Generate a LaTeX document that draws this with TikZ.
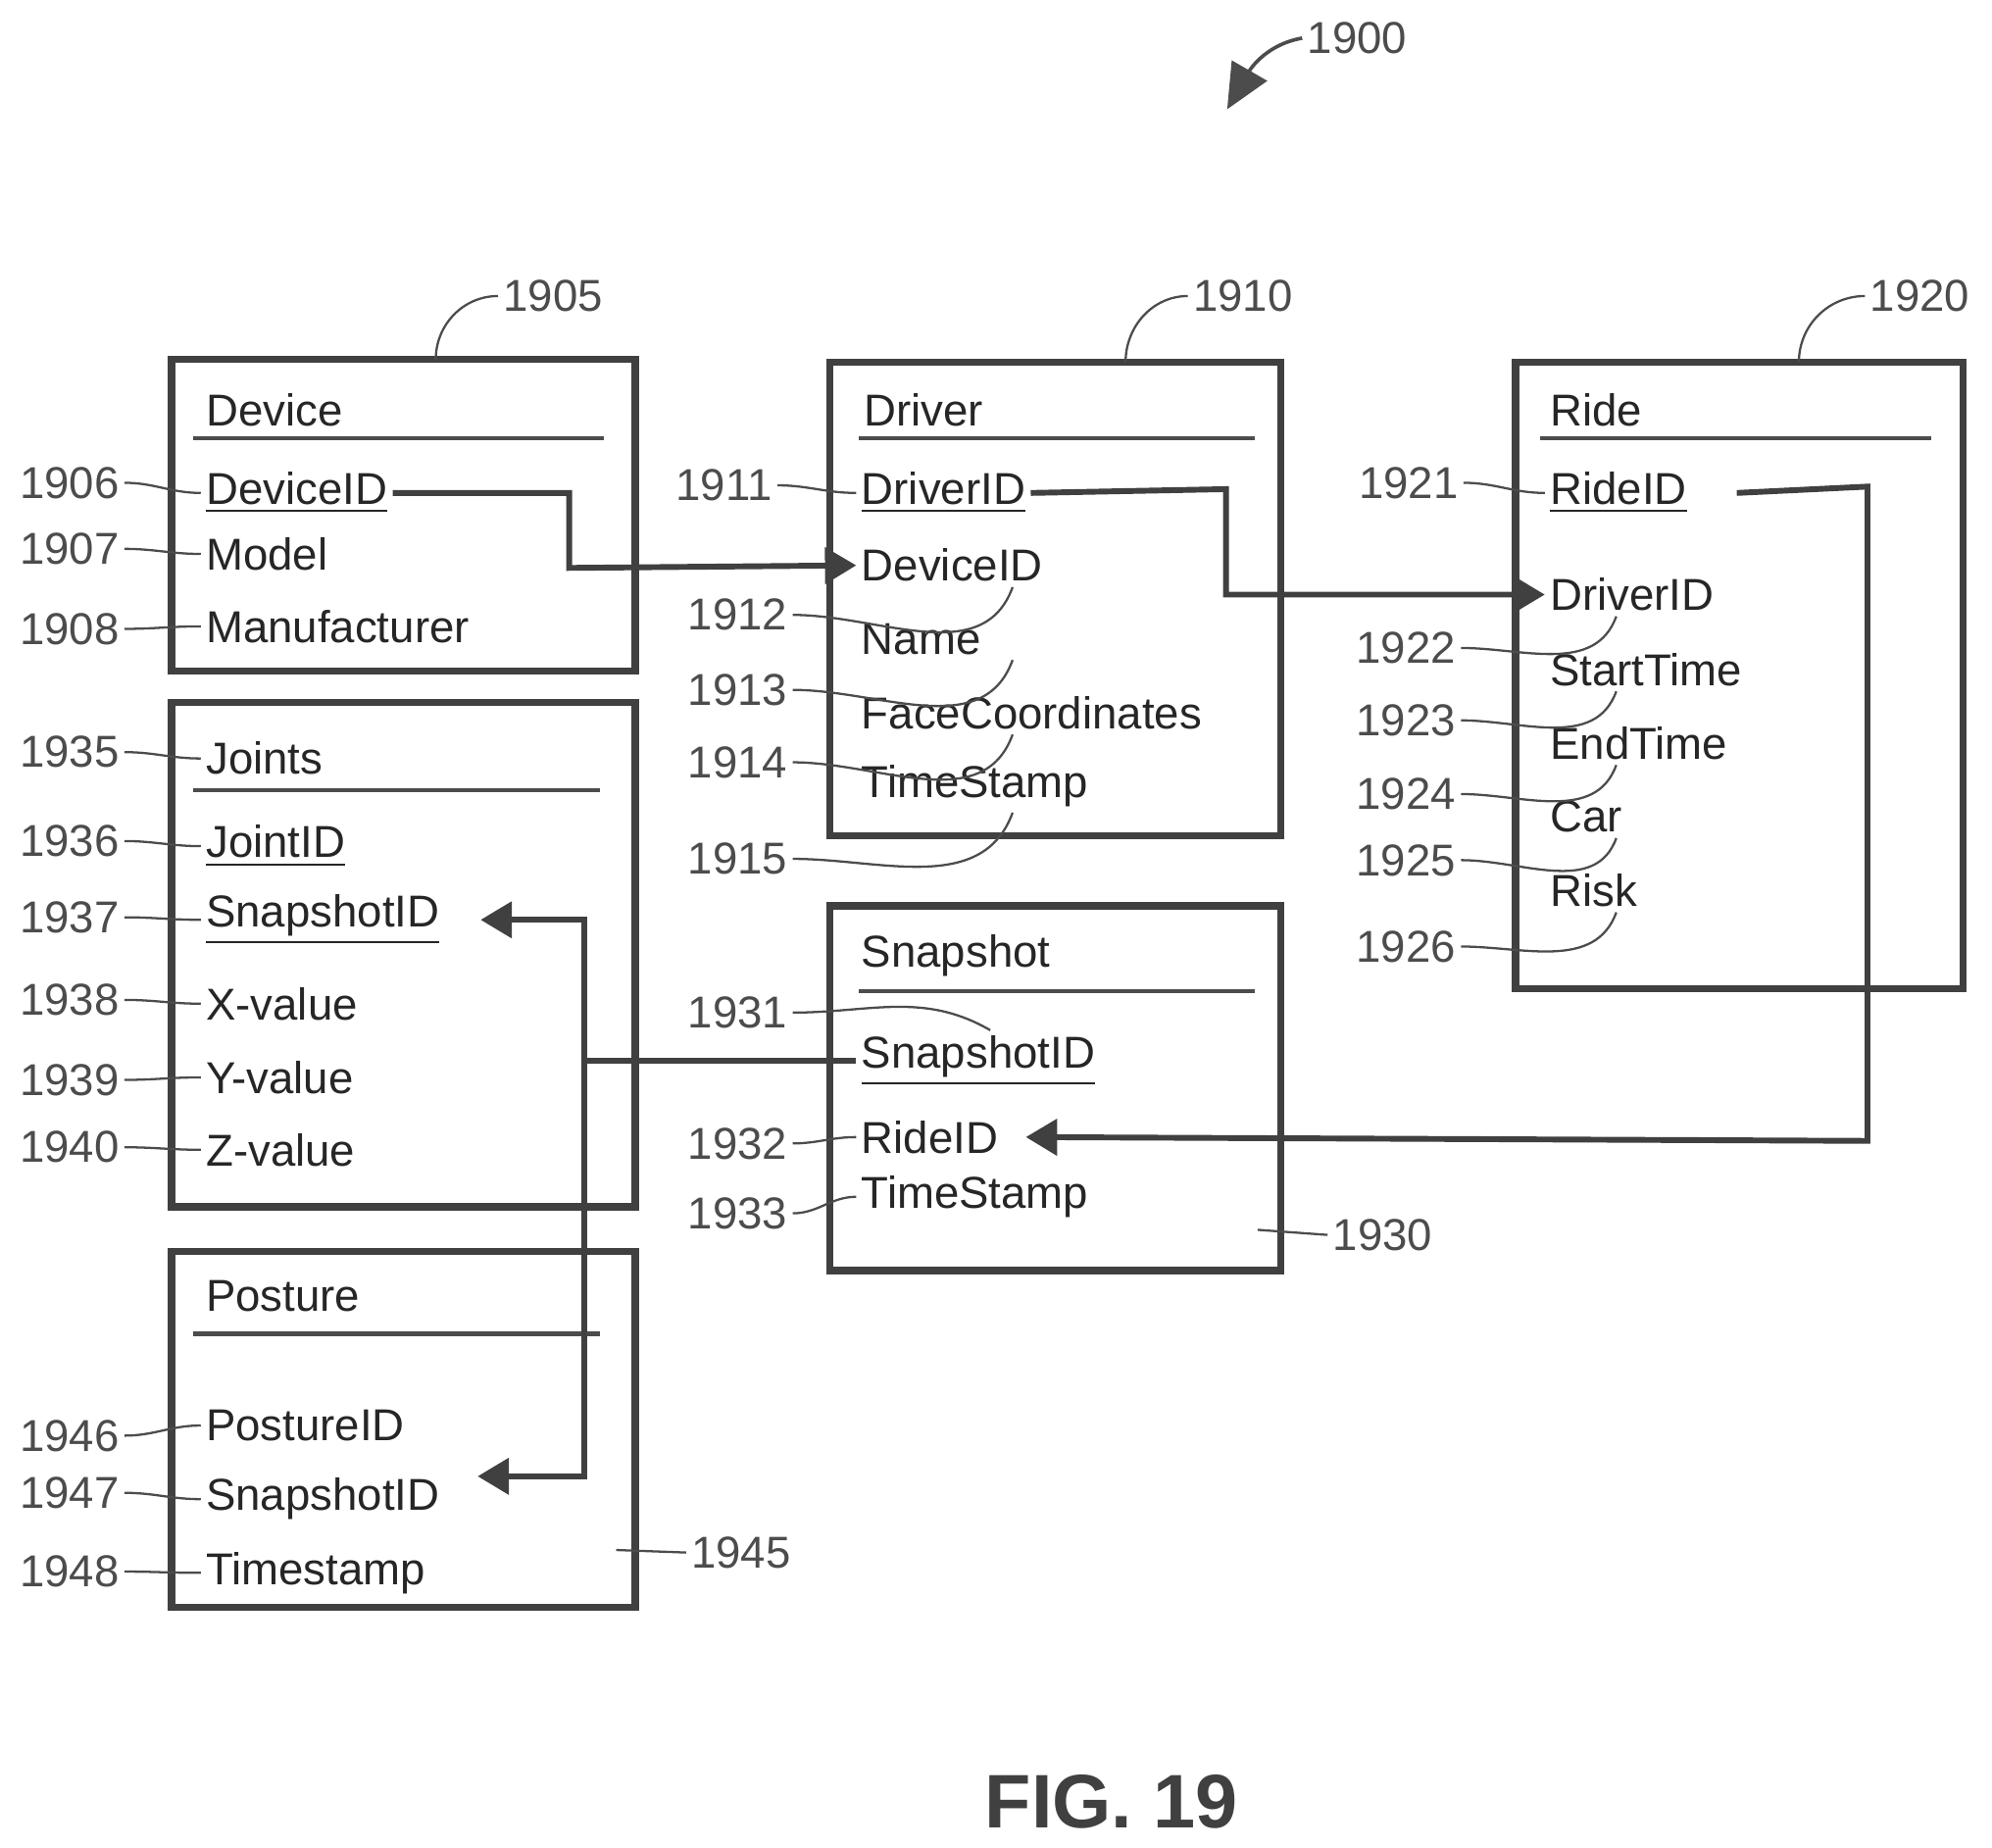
\documentclass[tikz,border=0pt]{standalone}
\usepackage{fontspec}
\setmainfont{Liberation Sans}
\usetikzlibrary{arrows.meta}
\begin{document}
\begin{tikzpicture}[x=0.01cm, y=-0.01cm,
  every node/.style = {font=\fontsize{10}{12}\selectfont, inner sep=1pt, text=black!85},
  tbl/.style = {draw=black!75, line width=1.6pt},
  fld/.style = {anchor=west},
  num/.style = {anchor=east, text=black!70},
  lead/.style = {draw=black!70, line width=0.5pt},
  rel/.style = {draw=black!75, line width=1.3pt},
  tip/.style = {-{Triangle[width=8pt,length=7pt]}}
  ]
  \useasboundingbox (0,0) rectangle (1568,1454);
  % tables
  \draw[tbl] (135,283) rectangle (500,528);
  \draw[tbl] (135,553) rectangle (500,950);
  \draw[tbl] (135,985) rectangle (500,1265);
  \draw[tbl] (653,285) rectangle (1008,658);
  \draw[tbl] (1193,285) rectangle (1545,778);
  \draw[tbl] (653,713) rectangle (1008,1000);
  % headers
  \node[fld] (device) at (158,323) {Device};
  \node[fld] (joints) at (158,597) {Joints};
  \node[fld] (posture) at (158,1020) {Posture};
  \node[fld] (driver) at (676,323) {Driver};
  \node[fld] (ride) at (1216,323) {Ride};
  \node[fld] (snapshot) at (674,752) {Snapshot};
  \draw[lead, line width=1pt] (152,345) -- (475,345) (152,622) -- (472,622)
    (152,1050) -- (472,1050) (676,345) -- (988,345) (1212,345) -- (1520,345)
    (676,780) -- (988,780);
  % fields
  \node[fld] (devid) at (158,388) {\underline{DeviceID}};
  \node[fld] (model) at (158,436) {Model};
  \node[fld] (manuf) at (158,493) {Manufacturer};
  \node[fld] (jointid) at (158,666) {\underline{JointID}};
  \node[fld] (jsnap) at (158,724) {\underline{SnapshotID}};
  \node[fld] (xval) at (158,790) {X-value};
  \node[fld] (yval) at (158,848) {Y-value};
  \node[fld] (zval) at (158,905) {Z-value};
  \node[fld] (postid) at (158,1122) {PostureID};
  \node[fld] (psnap) at (158,1180) {SnapshotID};
  \node[fld] (pstamp) at (158,1238) {Timestamp};
  \node[fld] (drvid) at (674,388) {\underline{DriverID}};
  \node[fld] (drdev) at (674,445) {DeviceID};
  \node[fld] (name) at (674,503) {Name};
  \node[fld] (face) at (674,561) {FaceCoordinates};
  \node[fld] (dstamp) at (674,619) {TimeStamp};
  \node[fld] (rideid) at (1216,388) {\underline{RideID}};
  \node[fld] (rdrv) at (1216,468) {DriverID};
  \node[fld] (start) at (1216,527) {StartTime};
  \node[fld] (end) at (1216,585) {EndTime};
  \node[fld] (car) at (1216,643) {Car};
  \node[fld] (risk) at (1216,701) {Risk};
  \node[fld] (ssid) at (674,835) {\underline{SnapshotID}};
  \node[fld] (sride) at (674,895) {RideID};
  \node[fld] (sstamp) at (674,942) {TimeStamp};
  % reference numerals
  \foreach \n/\y/\f in {1906/380/devid, 1907/432/model, 1908/495/manuf,
      1935/592/joints, 1936/662/jointid, 1937/722/jsnap, 1938/787/xval,
      1939/850/yval, 1940/903/zval, 1946/1130/postid, 1947/1175/psnap,
      1948/1237/pstamp}
    {\node[num] (n\n) at (98,\y) {\n};
     \draw[lead] (n\n.east) to[out=0,in=180] (\f.west);}
  \node[num] (n1911) at (612,382) {1911};
  \draw[lead] (n1911.east) to[out=0,in=180] (drvid.west);
  \node[num] (n1921) at (1152,380) {1921};
  \draw[lead] (n1921.east) to[out=0,in=180] (rideid.west);
  \node[num] (n1932) at (624,900) {1932};
  \draw[lead] (n1932.east) to[out=0,in=180] (sride.west);
  \node[num] (n1933) at (624,955) {1933};
  \draw[lead] (n1933.east) to[out=0,in=180] (sstamp.west);
  \node[num] (n1931) at (624,797) {1931};
  \draw[lead] (n1931.east) to[out=0,in=150] ([xshift=30]ssid.north west);
  \foreach \n/\y/\f in {1912/484/drdev, 1913/543/name, 1914/600/face, 1915/676/dstamp}
    {\node[num] (n\n) at (624,\y) {\n};
     \draw[lead] (n\n.east) to[out=0,in=-110] ([xshift=35]\f.south west);}
  \foreach \n/\y/\f in {1922/510/rdrv, 1923/567/start, 1924/625/end, 1925/677/car, 1926/745/risk}
    {\node[num] (n\n) at (1150,\y) {\n};
     \draw[lead] (n\n.east) to[out=0,in=-110] ([xshift=16]\f.south west);}
  \node[num, anchor=west] (n1930) at (1045,972) {1930};
  \draw[lead] (n1930.west) -- (990,968);
  \node[num, anchor=west] (n1945) at (540,1222) {1945};
  \draw[lead] (n1945.west) -- (485,1220);
  % table numerals
  \node[num, anchor=west] (n1905) at (392,233) {1905};
  \draw[lead] (343,283) to[out=90,in=180] (n1905.west);
  \node[num, anchor=west] (n1910) at (935,233) {1910};
  \draw[lead] (886,285) to[out=90,in=180] (n1910.west);
  \node[num, anchor=west] (n1920) at (1468,233) {1920};
  \draw[lead] (1416,285) to[out=90,in=180] (n1920.west);
  \node[num, anchor=west] (n1900) at (1025,30) {1900};
  \draw[lead, line width=0.8pt, -{Triangle[width=9pt,length=10pt]}]
    (n1900.west) to[out=190,in=60] (966,86);
  % relations
  \draw[rel, tip] (devid.east) -- (448,388) -- (448,447) -- (drdev.west);
  \draw[rel, tip] (drvid.east) -- (965,385) -- (965,468) -- (rdrv.west);
  \draw[rel, tip] ([xshift=10]rideid.east) -- (1470,383) -- (1470,898) -- ([xshift=5]sride.east);
  \coordinate (jn) at (460,835);
  \draw[rel] (ssid.west) -- (jn);
  \draw[rel, tip] (460,1162) -- (460,724) -- ([xshift=8]jsnap.east);
  \draw[rel, tip] (460,1000) -- (460,1162) -- (376,1162);
  \node[font=\bfseries\fontsize{17}{20}\selectfont, text=black!75] (fig) at (875,1418) {FIG. 19};
\end{tikzpicture}
\end{document}
